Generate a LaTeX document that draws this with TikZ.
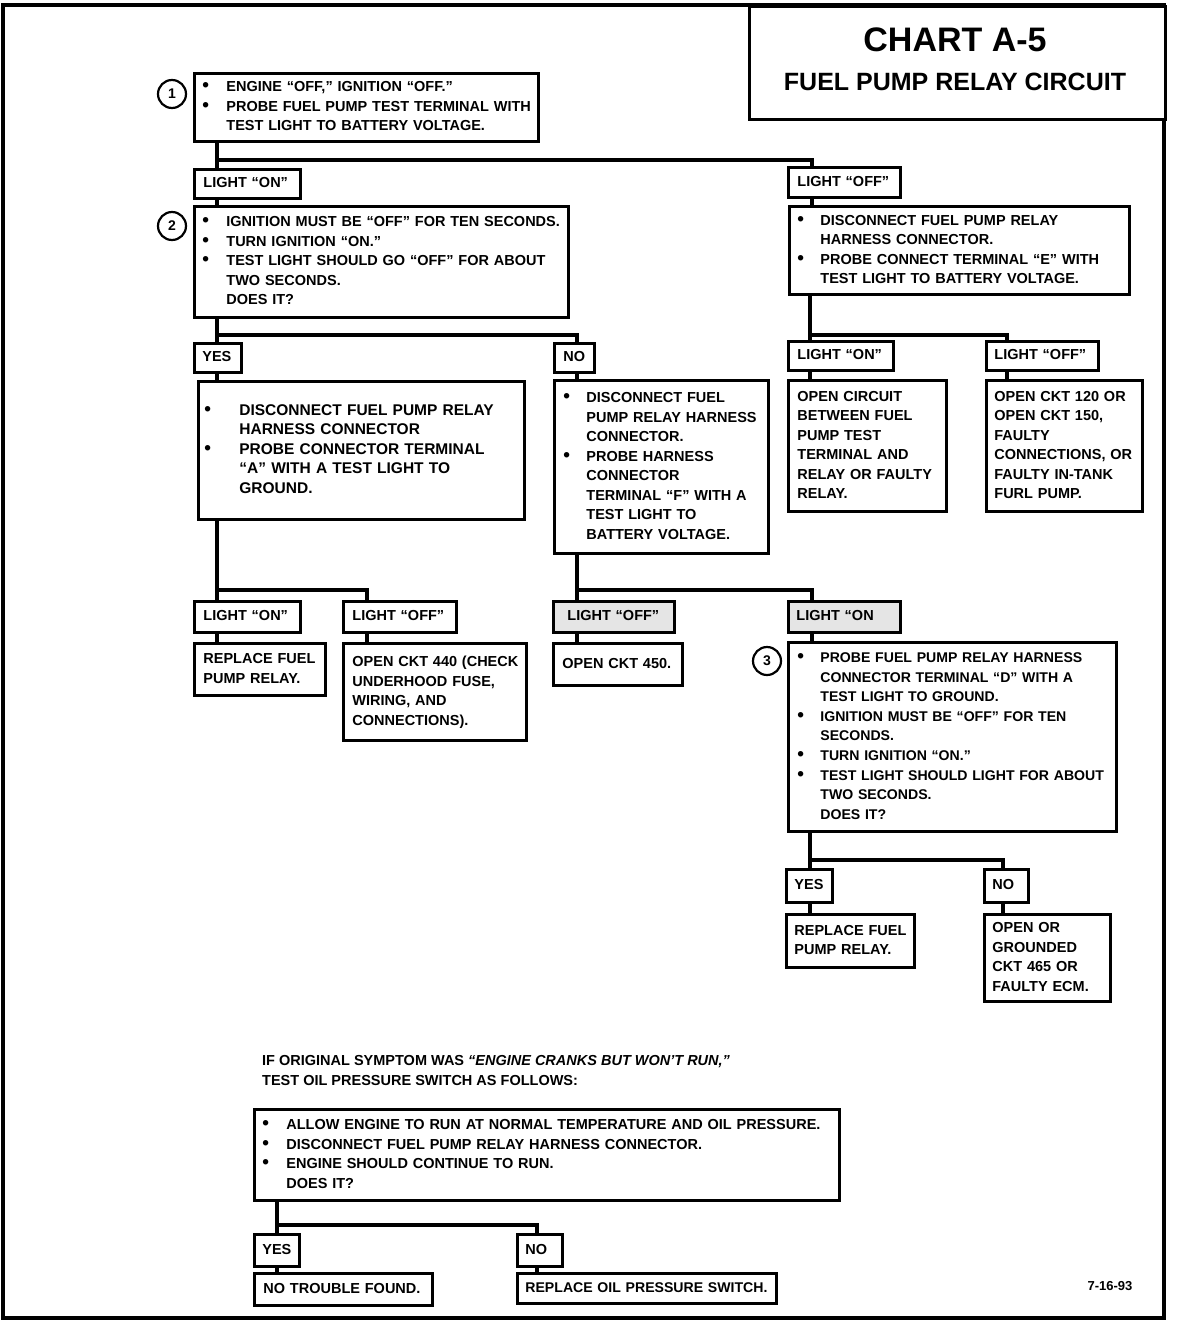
\documentclass[tikz,border=0pt]{standalone}
\usepackage{fontspec}
\setmainfont{Liberation Sans}
\usepackage{array}
\newcommand\bfnt{\fontsize{14.5}{19.5}\selectfont\bfseries}
\newcommand\bfntb{\fontsize{15.5}{19.5}\selectfont\bfseries}
\newcommand\bfntc{\fontsize{14.1}{19.6}\selectfont\bfseries}
\newcommand\bu{{\fontsize{19}{19.5}\selectfont\textbullet}}
\newcommand\tbul[3]{\noindent\begin{tabular}{@{\hspace{#1pt}}p{#2pt}@{}l@{}}#3\end{tabular}}
\newcommand\tlines[2]{\noindent\begin{tabular}{@{\hspace{#1pt}}l@{}}#2\end{tabular}}
\tikzset{
 bx/.style={draw, line width=2.8pt, anchor=north west, inner sep=0pt, align=left, font=\bfnt, fill=white},
 sz/.style 2 args={minimum width=#1pt, text width=#1pt, minimum height=#2pt},
 cn/.style={line width=3.5pt},
 shd/.style={fill=black!10},
 circ/.style={circle, draw, line width=2.2pt, minimum size=28pt, inner sep=0pt, font=\fontsize{14}{14}\selectfont\bfseries},
 ttl/.style={inner sep=0pt, anchor=base, font=\bfseries},
}
\begin{document}
\begin{tikzpicture}[x=1pt,y=-1pt]
\useasboundingbox (0,0) rectangle (1184,1322);
\draw[line width=4.5pt] (3,5) rectangle (1164,1318);
% title
\node[bx, sz={416}{113}] (title) at (748,5) {};
\node[ttl, font=\fontsize{34}{34}\selectfont\bfseries] (t1) at (955,52) {CHART A-5};
\node[ttl, font=\fontsize{25}{25}\selectfont\bfseries] (t2) at (955,90) {FUEL PUMP RELAY CIRCUIT};
% step 1
\node[circ] (c1) at (172,94) {1};
\node[bx, sz={344}{68}] (b1) at (193,72) {\tbul{8}{24}{\bu & ENGINE ``OFF,'' IGNITION ``OFF.''\\ \bu & PROBE FUEL PUMP TEST TERMINAL WITH\\ & TEST LIGHT TO BATTERY VOLTAGE.}};
\node[bx, sz={106}{29}] (lon1) at (193,168) {\tlines{9}{LIGHT ``ON''}};
\node[bx, sz={112}{30}] (loff1) at (787,166) {\tlines{9}{LIGHT ``OFF''}};
% step 2
\node[circ] (c2) at (172,226) {2};
\node[bx, sz={374}{111}] (b2) at (193,205) {\tbul{8}{24}{\bu & IGNITION MUST BE ``OFF'' FOR TEN SECONDS.\\ \bu & TURN IGNITION ``ON.''\\ \bu & TEST LIGHT SHOULD GO ``OFF'' FOR ABOUT\\ & TWO SECONDS.\\ & DOES IT?}};
\node[bx, sz={47}{29}] (yes1) at (193,342) {\tlines{8}{YES}};
\node[bx, sz={40}{29}] (no1) at (553,342) {\tlines{9}{NO}};
\node[bx, sz={326}{138}, font=\bfntb] (byes) at (197,380) {\tbul{6}{35}{\bu & DISCONNECT FUEL PUMP RELAY\\ & HARNESS CONNECTOR\\ \bu & PROBE CONNECTOR TERMINAL\\ & ``A'' WITH A TEST LIGHT TO\\ & GROUND.}};
\node[bx, sz={214}{173}] (bno) at (553,379) {\tbul{9}{23}{\bu & DISCONNECT FUEL\\ & PUMP RELAY HARNESS\\ & CONNECTOR.\\ \bu & PROBE HARNESS\\ & CONNECTOR\\ & TERMINAL ``F'' WITH A\\ & TEST LIGHT TO\\ & BATTERY VOLTAGE.}};
\node[bx, sz={106}{31}] (lon2) at (193,600) {\tlines{9}{LIGHT ``ON''}};
\node[bx, sz={113}{31}] (loff2) at (342,600) {\tlines{9}{LIGHT ``OFF''}};
\node[bx, sz={131}{52}] (rep1) at (193,642) {\tlines{9}{REPLACE FUEL\\ PUMP RELAY.}};
\node[bx, sz={183}{97}] (ckt440) at (342,642) {\tlines{9}{OPEN CKT 440 (CHECK\\ UNDERHOOD FUSE,\\ WIRING, AND\\ CONNECTIONS).}};
\node[bx, shd, sz={121}{31}] (loff3) at (552,600) {\tlines{14}{LIGHT ``OFF''}};
\node[bx, sz={129}{42}] (ckt450) at (552,642) {\tlines{9}{OPEN CKT 450.}};
\node[bx, shd, sz={112}{31}] (lon3) at (787,600) {\tlines{8}{LIGHT ``ON}};
% step 3
\node[circ] (c3) at (767,661) {3};
\node[bx, sz={328}{189}, font=\bfntc] (b3) at (787,641) {\tbul{9}{23}{\bu & PROBE FUEL PUMP RELAY HARNESS\\ & CONNECTOR TERMINAL ``D'' WITH A\\ & TEST LIGHT TO GROUND.\\ \bu & IGNITION MUST BE ``OFF'' FOR TEN\\ & SECONDS.\\ \bu & TURN IGNITION ``ON.''\\ \bu & TEST LIGHT SHOULD LIGHT FOR ABOUT\\ & TWO SECONDS.\\ & DOES IT?}};
\node[bx, sz={46}{33}] (yes3) at (785,868) {\tlines{8}{YES}};
\node[bx, sz={44}{33}] (no3) at (983,868) {\tlines{8}{NO}};
\node[bx, sz={128}{53}] (rep3) at (785,913) {\tlines{8}{REPLACE FUEL\\ PUMP RELAY.}};
\node[bx, sz={126}{87}] (ckt465) at (983,913) {\tlines{8}{OPEN OR\\ GROUNDED\\ CKT 465 OR\\ FAULTY ECM.}};
% right branch
\node[bx, sz={340}{88}] (bR) at (788,205) {\tbul{8}{23}{\bu & DISCONNECT FUEL PUMP RELAY\\ & HARNESS CONNECTOR.\\ \bu & PROBE CONNECT TERMINAL ``E'' WITH\\ & TEST LIGHT TO BATTERY VOLTAGE.}};
\node[bx, sz={105}{29}] (lon4) at (787,340) {\tlines{9}{LIGHT ``ON''}};
\node[bx, sz={112}{29}] (loff4) at (985,340) {\tlines{8}{LIGHT ``OFF''}};
\node[bx, sz={158}{131}] (ocirc) at (787,379) {\tlines{9}{OPEN CIRCUIT\\ BETWEEN FUEL\\ PUMP TEST\\ TERMINAL AND\\ RELAY OR FAULTY\\ RELAY.}};
\node[bx, sz={156}{131}] (ckt120) at (985,379) {\tlines{8}{OPEN CKT 120 OR\\ OPEN CKT 150,\\ FAULTY\\ CONNECTIONS, OR\\ FAULTY IN-TANK\\ FURL PUMP.}};
% oil pressure switch test
\node[inner sep=0pt, anchor=base west, font=\bfnt] (intro1) at (262,1065) {IF ORIGINAL SYMPTOM WAS \textit{``ENGINE CRANKS BUT WON'T RUN,''}};
\node[inner sep=0pt, anchor=base west, font=\bfnt] (intro2) at (262,1085) {TEST OIL PRESSURE SWITCH AS FOLLOWS:};
\node[bx, sz={585}{91}] (bot) at (253,1108) {\tbul{8}{24}{\bu & ALLOW ENGINE TO RUN AT NORMAL TEMPERATURE AND OIL PRESSURE.\\ \bu & DISCONNECT FUEL PUMP RELAY HARNESS CONNECTOR.\\ \bu & ENGINE SHOULD CONTINUE TO RUN.\\ & DOES IT?}};
\node[bx, sz={45}{32}] (yes5) at (253,1233) {\tlines{8}{YES}};
\node[bx, sz={45}{32}] (no5) at (516,1233) {\tlines{8}{NO}};
\node[bx, sz={178}{32}] (ntf) at (253,1272) {\tlines{9}{NO TROUBLE FOUND.}};
\node[bx, sz={259}{30}, font=\bfntc] (ros) at (516,1272) {\tlines{8}{REPLACE OIL PRESSURE SWITCH.}};
\node[inner sep=0pt, anchor=base, font=\fontsize{13}{13}\selectfont\bfseries] (date) at (1110,1290) {7-16-93};
% connectors
\draw[cn] ([xshift=24pt]b1.south west) -- ([xshift=24pt]lon1.north west);
\draw[cn] ([xshift=24pt,yshift=-17pt]b1.south west) -| ([xshift=25pt]loff1.north west);
\draw[cn] ([xshift=24pt]lon1.south west) -- ([xshift=24pt]b2.north west);
\draw[cn] ([xshift=25pt]loff1.south west) -- ([xshift=24pt]bR.north west);
\draw[cn] ([xshift=24pt]b2.south west) -- ([xshift=24pt]yes1.north west);
\draw[cn] ([xshift=24pt,yshift=-16pt]b2.south west) -| ([xshift=24pt]no1.north west);
\draw[cn] ([xshift=24pt]yes1.south west) -- ([xshift=20pt]byes.north west);
\draw[cn] ([xshift=24pt]no1.south west) -- ([xshift=24pt]bno.north west);
\draw[cn] ([xshift=20pt]byes.south west) -- ([xshift=24pt]lon2.north west);
\draw[cn] ([xshift=20pt,yshift=-69pt]byes.south west) -| ([xshift=25pt]loff2.north west);
\draw[cn] ([xshift=24pt]lon2.south west) -- ([xshift=24pt]rep1.north west);
\draw[cn] ([xshift=25pt]loff2.south west) -- ([xshift=25pt]ckt440.north west);
\draw[cn] ([xshift=24pt]bno.south west) -- ([xshift=25pt]loff3.north west);
\draw[cn] ([xshift=24pt,yshift=-35pt]bno.south west) -| ([xshift=25pt]lon3.north west);
\draw[cn] ([xshift=25pt]loff3.south west) -- ([xshift=25pt]ckt450.north west);
\draw[cn] ([xshift=25pt]lon3.south west) -- ([xshift=25pt]b3.north west);
\draw[cn] ([xshift=23pt]b3.south west) -- ([xshift=25pt]yes3.north west);
\draw[cn] ([xshift=23pt,yshift=-27pt]b3.south west) -| ([xshift=20pt]no3.north west);
\draw[cn] ([xshift=25pt]yes3.south west) -- ([xshift=25pt]rep3.north west);
\draw[cn] ([xshift=20pt]no3.south west) -- ([xshift=20pt]ckt465.north west);
\draw[cn] ([xshift=22pt]bR.south west) -- ([xshift=23pt]lon4.north west);
\draw[cn] ([xshift=22pt,yshift=-39pt]bR.south west) -| ([xshift=22pt]loff4.north west);
\draw[cn] ([xshift=23pt]lon4.south west) -- ([xshift=23pt]ocirc.north west);
\draw[cn] ([xshift=22pt]loff4.south west) -- ([xshift=22pt]ckt120.north west);
\draw[cn] ([xshift=24pt]bot.south west) -- ([xshift=24pt]yes5.north west);
\draw[cn] ([xshift=24pt,yshift=-23pt]bot.south west) -| ([xshift=21pt]no5.north west);
\draw[cn] ([xshift=24pt]yes5.south west) -- ([xshift=24pt]ntf.north west);
\draw[cn] ([xshift=21pt]no5.south west) -- ([xshift=21pt]ros.north west);
\end{tikzpicture}
\end{document}
